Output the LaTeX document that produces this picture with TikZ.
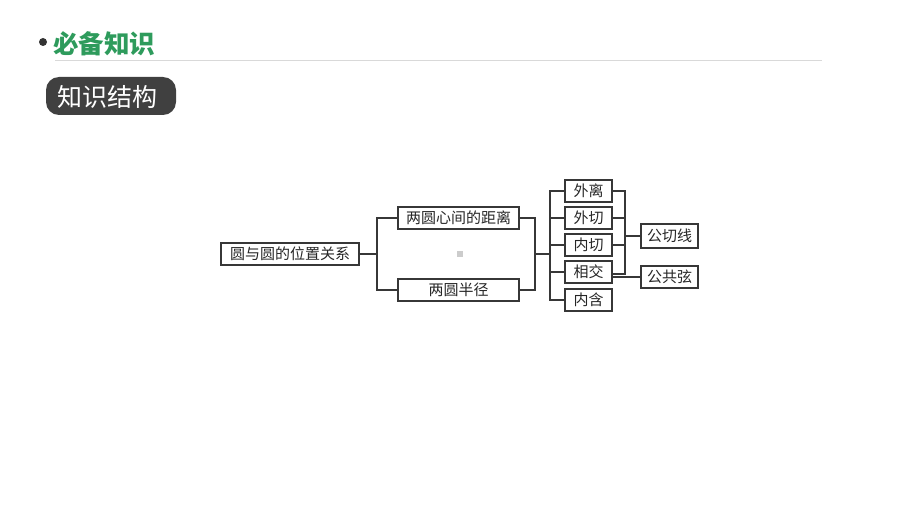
\documentclass[tikz,border=0pt]{standalone}
\usepackage{fontspec}
\newfontfamily\cjk{Noto Sans CJK SC}
\usepackage{tikz}
\usetikzlibrary{arrows.meta,positioning}
\definecolor{titlegreen}{RGB}{46,155,92}
\definecolor{tagdark}{RGB}{64,64,64}
\definecolor{linegray}{RGB}{55,55,55}

\begin{document}
\begin{tikzpicture}[x=1pt,y=-1pt,
        box/.style={draw=linegray,line width=1.4pt,inner sep=0pt,minimum height=22pt,
            font=\cjk\fontsize{15}{18}\selectfont,text=black!85},
        link/.style={draw=linegray,line width=1.4pt}]
            \useasboundingbox (0,0) rectangle (920,516);

            \fill[black!80] (43,42) circle (4);
            \node [anchor=west,inner sep=0pt,text=titlegreen,
                font=\cjk\bfseries\fontsize{25.5}{28}\selectfont] (title) at (53,44) {必备知识};
            \draw [black!15,line width=1pt] (55,61) -- (822,61);
            \fill [tagdark,rounded corners=13pt] (46,77) rectangle (176,115);
            \node [anchor=west,inner sep=0pt,text=white,
                font=\cjk\fontsize{25}{28}\selectfont] (tag) at (57,97) {知识结构};

            \node [box,minimum width=138pt,minimum height=22pt] (root) at (290,254) {圆与圆的位置关系};
            \node [box,minimum width=121pt] (dist) at (458.5,218) {两圆心间的距离};
            \node [box,minimum width=121pt] (rad) at (458.5,290) {两圆半径};

            \node [box,minimum width=47pt] (wl) at (588.5,191) {外离};
            \node [box,minimum width=47pt] (wq) at (588.5,218) {外切};
            \node [box,minimum width=47pt] (nq) at (588.5,245) {内切};
            \node [box,minimum width=47pt] (xj) at (588.5,272) {相交};
            \node [box,minimum width=47pt] (nh) at (588.5,300) {内含};

            \node [box,minimum width=57pt,minimum height=24pt] (gqx) at (669.5,236) {公切线};
            \node [box,minimum width=57pt] (ggx) at (669.5,277) {公共弦};

            \fill [black!20] (457,251) rectangle (463,257);

            \coordinate (j1) at (377,254);
            \coordinate (j2) at (535,254);
            \coordinate (j3) at (550,254);
            \coordinate (j4) at (625,236);

            \draw [link] (root) -- (j1);
            \draw [link] (dist.west) -| (j1) |- (rad.west);
            \draw [link] (dist.east) -| (j2) |- (rad.east);
            \draw [link] (j2) -- (j3);
            \draw [link] (wl.west) -| (j3) |- (nh.west);
            \draw [link] (j3) |- (wq.west);
            \draw [link] (j3) |- (nq.west);
            \draw [link] (j3) |- (xj.west);
            \draw [link] (wl.east) -| (j4) |- ([yshift=-2pt]xj.east);
            \draw [link] (wq.east) -| (j4);
            \draw [link] (nq.east) -| (j4);
            \draw [link] (j4) -- (gqx);
            \draw [link] (xj.east |- ggx) -- (ggx);
        \end{tikzpicture}
\end{document}
